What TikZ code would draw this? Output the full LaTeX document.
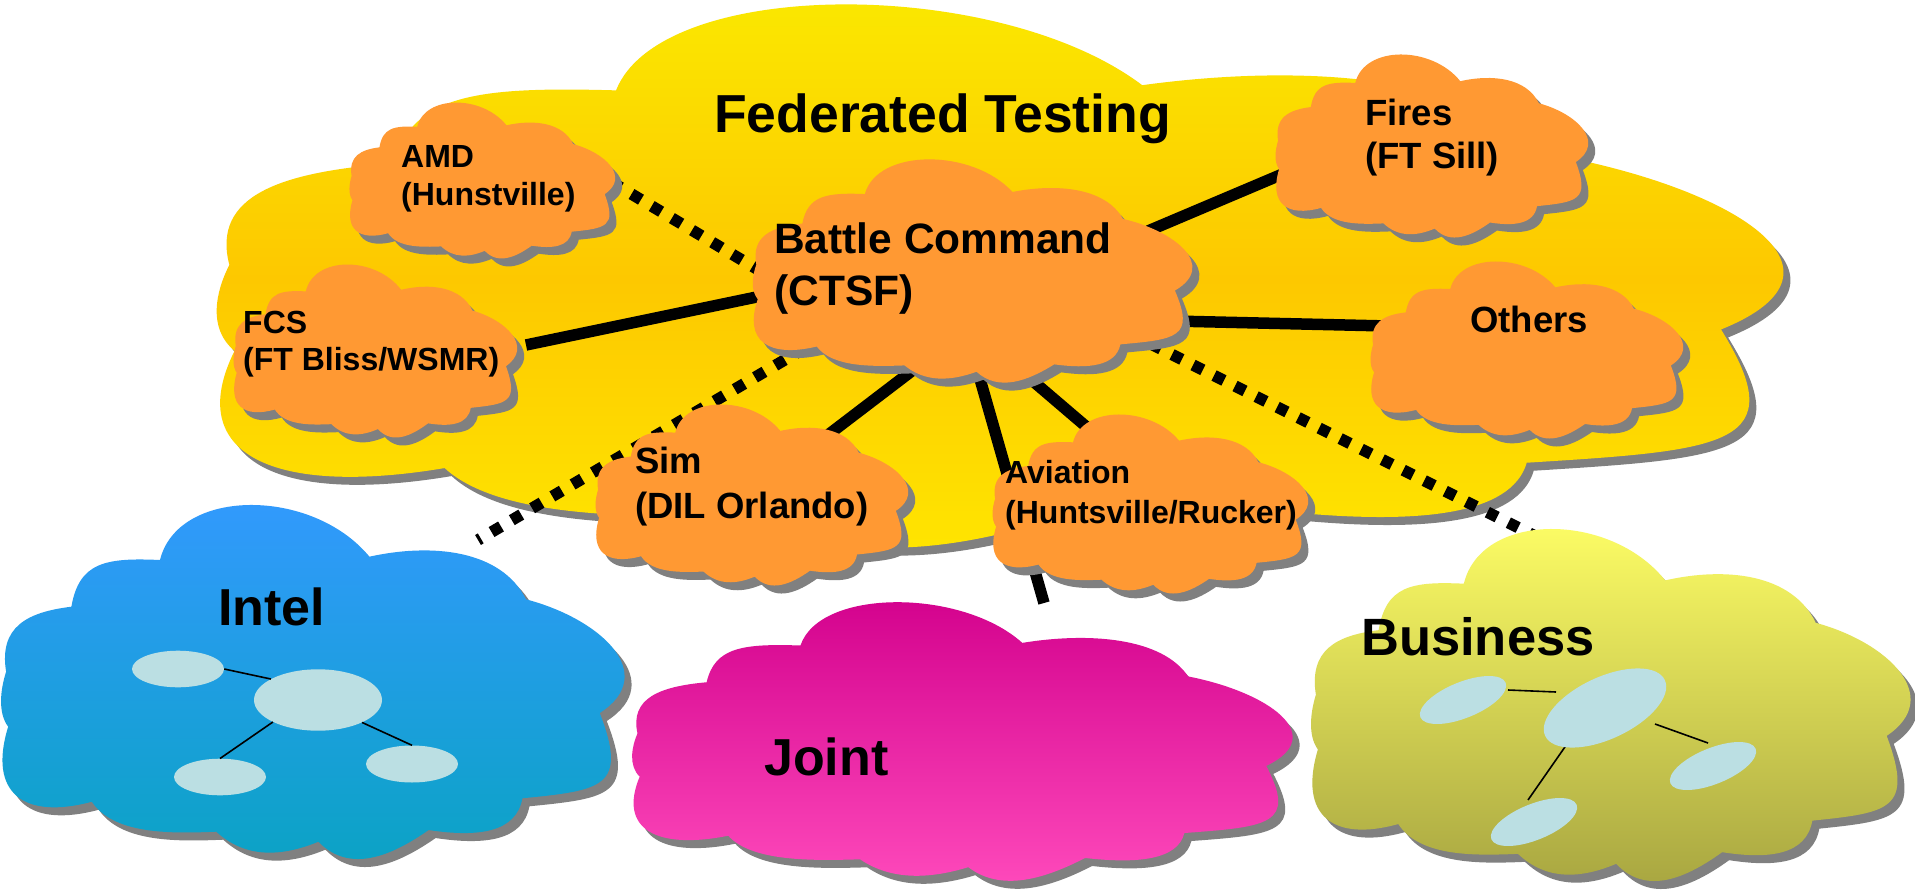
\documentclass[tikz,border=0pt]{standalone}
\usepackage{fontspec}
\setmainfont{Liberation Sans}
\usetikzlibrary{shapes.geometric}
\definecolor{orangec}{RGB}{255,153,51}
\definecolor{shadowc}{RGB}{128,128,128}
\definecolor{ylwtop}{RGB}{250,234,0}
\definecolor{ylwmid}{RGB}{253,200,0}
\definecolor{ylwbot}{RGB}{255,232,0}
\definecolor{inteltop}{RGB}{51,153,255}
\definecolor{intelbot}{RGB}{10,163,195}
\definecolor{jointtop}{RGB}{210,0,140}
\definecolor{jointbot}{RGB}{255,75,188}
\definecolor{bustop}{RGB}{255,255,102}
\definecolor{busbot}{RGB}{166,164,64}
\definecolor{ovalc}{RGB}{187,223,227}

\newcommand\cloudfill[1]{\path[#1] (0.2564,0.1534) .. controls (0.2853,-0.0534) and (0.5003,-0.0534) .. (0.5920,0.1440) .. controls (0.6936,0.1043) and (0.8035,0.1253) .. (0.8429,0.2651) .. controls (0.9631,0.3210) and (1.0577,0.4773) .. (0.9611,0.5881) .. controls (1.0072,0.7994) and (0.9647,0.8077) .. (0.8372,0.8304) .. controls (0.8271,0.9278) and (0.7662,0.9418) .. (0.6869,0.9205) .. controls (0.6277,0.9935) and (0.5607,1.0457) .. (0.5103,0.9537) .. controls (0.4510,0.9966) and (0.3939,1.0020) .. (0.3466,0.9253) .. controls (0.2745,0.9304) and (0.1830,0.9344) .. (0.1471,0.8401) .. controls (0.0389,0.8918) and (-0.0200,0.8170) .. (0.0131,0.6270) .. controls (-0.0042,0.5861) and (0.0011,0.5193) .. (0.0098,0.4707) .. controls (-0.0018,0.3440) and (0.0429,0.3014) .. (0.1144,0.2861) .. controls (0.1268,0.1602) and (0.1683,0.1463) .. (0.2564,0.1534) -- cycle;}

% name, x0, y0, width, height, fill style
\newcommand\pcloud[6]{%
  \begin{scope}[shift={(#2+7,#3+8)},xscale=#4,yscale=#5]\cloudfill{fill=shadowc}\end{scope}
  \begin{scope}[shift={(#2,#3)},xscale=#4,yscale=#5]\cloudfill{#6}\end{scope}
  \coordinate (#1) at (#2+#4/2,#3+#5/2);}

\tikzset{
  lbl/.style={inner sep=0pt, anchor=base west, text=black},
  conn/.style={line width=11.5pt, draw=black},
  dconn/.style={line width=11.5pt, draw=black, dash pattern=on 11pt off 12.5pt},
  thinl/.style={line width=1.6pt, draw=black},
  oval/.style={ellipse, fill=ovalc, inner sep=0pt},
  orangefill/.style={fill=orangec},
}

\begin{document}
\begin{tikzpicture}[x=1pt,y=-1pt]
\fill[white] (0,0) rectangle (1915,891);
\useasboundingbox (0,0) rectangle (1915,891);

% big yellow cloud
\pcloud{fed}{214}{6}{1568}{550}{top color=ylwtop,bottom color=ylwbot,middle color=ylwmid}
\node[lbl,font=\fontsize{53.5}{64}\selectfont\bfseries] (fedlbl) at (714,132) {Federated Testing};

% connector end points
\coordinate (bc-fcs) at (771,294);   \coordinate (fcs-in) at (526,345);
\coordinate (bc-amd) at (762,272);   \coordinate (amd-in) at (588,168);
\coordinate (bc-fir) at (1148,231);  \coordinate (fir-in) at (1285,173);
\coordinate (bc-oth) at (1172,321);  \coordinate (oth-in) at (1388,326);
\coordinate (bc-sim) at (917,367);   \coordinate (sim-in) at (824,438);
\coordinate (bc-jnt) at (976,365);   \coordinate (jnt-end) at (1044,603);
\coordinate (bc-avi) at (1027,376);  \coordinate (avi-in) at (1096,435);
\coordinate (bc-int) at (805,348);   \coordinate (int-end) at (478,540);
\coordinate (bc-bus) at (1151,344);  \coordinate (bus-end) at (1537,537);

\draw[conn] (bc-fcs) -- (fcs-in);
\draw[dconn] (bc-amd) -- (amd-in);
\draw[conn] (bc-fir) -- (fir-in);
\draw[conn] (bc-oth) -- (oth-in);
\draw[conn] (bc-sim) -- (sim-in);
\draw[conn] (bc-jnt) -- (jnt-end);
\draw[conn] (bc-avi) -- (avi-in);
\draw[dconn] (bc-int) -- (int-end);
\draw[dconn] (bc-bus) -- (bus-end);

% orange clouds
\pcloud{amd}{349}{103}{266}{155}{orangefill}
\node[lbl,font=\fontsize{32}{38}\selectfont\bfseries] (amdlbl) at (401,167) {\vtop{\hbox{AMD}\hbox{(Hunstville)}}};

\pcloud{fcs}{233}{265}{284}{172}{orangefill}
\node[lbl,font=\fontsize{32}{37.5}\selectfont\bfseries] (fcslbl) at (243,333) {\vtop{\hbox{FCS}\hbox{(FT Bliss/WSMR)}}};

\pcloud{bc}{752}{160}{440}{222}{orangefill}
\node[lbl,font=\fontsize{42.5}{52}\selectfont\bfseries] (bclbl) at (774,253) {\vtop{\hbox{Battle Command}\hbox{(CTSF)}}};

\pcloud{fires}{1275}{55}{313}{182}{orangefill}
\node[lbl,font=\fontsize{36.5}{43}\selectfont\bfseries] (fireslbl) at (1365,125) {\vtop{\hbox{Fires}\hbox{(FT Sill)}}};

\pcloud{others}{1370}{262}{313}{176}{orangefill}
\node[lbl,font=\fontsize{36.5}{43}\selectfont\bfseries] (otherslbl) at (1470,332) {Others};

\pcloud{sim}{595}{405}{313}{180}{orangefill}
\node[lbl,font=\fontsize{36.5}{45}\selectfont\bfseries] (simlbl) at (635,473) {\vtop{\hbox{Sim}\hbox{(DIL Orlando)}}};

\pcloud{avi}{992}{415}{316}{178}{orangefill}
\node[lbl,font=\fontsize{32}{40}\selectfont\bfseries] (avilbl) at (1005,483) {\vtop{\hbox{Aviation}\hbox{(Huntsville/Rucker)}}};

% Intel
\pcloud{intel}{0}{506}{624}{352}{top color=inteltop,bottom color=intelbot}
\node[lbl,font=\fontsize{52}{62}\selectfont\bfseries] (intellbl) at (218,625) {Intel};
\node[oval,minimum width=92pt,minimum height=36.6pt] (ie1) at (178,669) {};
\node[oval,minimum width=128pt,minimum height=61.4pt] (ie2) at (318,700) {};
\node[oval,minimum width=92pt,minimum height=36.6pt] (ie3) at (220,777) {};
\node[oval,minimum width=92pt,minimum height=37pt] (ie4) at (412,764) {};
\draw[thinl] (ie1.east) -- (ie2.156);
\draw[thinl] (ie2.206) -- (ie3.north);
\draw[thinl] (ie2.333) -- (ie4.north);

% Joint
\pcloud{joint}{631}{603}{661}{277}{top color=jointtop,bottom color=jointbot}
\node[lbl,font=\fontsize{52}{62}\selectfont\bfseries] (jointlbl) at (764,775) {Joint};

% Business
\pcloud{bus}{1310}{530}{600}{350}{top color=bustop,bottom color=busbot}
\node[lbl,font=\fontsize{52.5}{62}\selectfont\bfseries] (buslbl) at (1361,655) {Business};
\coordinate (b12a) at (1508,690); \coordinate (b12b) at (1556,692);
\coordinate (b23a) at (1655,724); \coordinate (b23b) at (1708,743);
\coordinate (b24a) at (1567,744); \coordinate (b24b) at (1528,800);
\draw[thinl] (b12a) -- (b12b);
\draw[thinl] (b23a) -- (b23b);
\draw[thinl] (b24a) -- (b24b);
\node[oval,rotate=22,minimum width=92pt,minimum height=36pt] (be1) at (1463,700) {};
\node[oval,rotate=25,minimum width=132pt,minimum height=62pt] (be2) at (1605,708) {};
\node[oval,rotate=22,minimum width=92pt,minimum height=36pt] (be3) at (1713,766) {};
\node[oval,rotate=22,minimum width=92pt,minimum height=36pt] (be4) at (1534,822) {};
\end{tikzpicture}
\end{document}
